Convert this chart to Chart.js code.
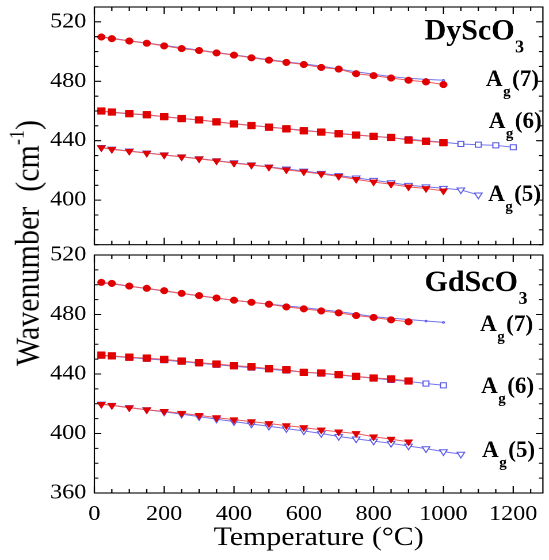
<!DOCTYPE html>
<html>
<head>
<meta charset="utf-8">
<script src="https://cdn.jsdelivr.net/npm/chart.js@4.4.1/dist/chart.umd.min.js"></script>
<style>
  body { margin: 0; background: #fff; }
  /* the original figure is a little wider than tall, so the whole drawing is stretched */
  #stage { position: absolute; left: 0; top: 0; width: 477px; height: 560px; transform: scaleX(1.15094); transform-origin: 0 0; }
  #topChart { position: absolute; left: 0; top: 0; }
  #bottomChart { position: absolute; left: 0; top: 235px; }
  #ylabel { position: absolute; left: -126px; top: 228px; width: 300px; height: 30px; line-height: 30px;
            text-align: center; font-family: "Liberation Serif"; font-size: 30px; color: #000;
            transform: rotate(-90deg); white-space: nowrap; }
  #ylabel sup { font-size: 18px; line-height: 0; vertical-align: 13px; }
</style>
</head>
<body>
<div id="stage">
  <canvas id="topChart" width="477" height="250"></canvas>
  <canvas id="bottomChart" width="477" height="325"></canvas>
  <div id="ylabel">Wavenumber&nbsp;&nbsp;(cm<sup>-1</sup>)</div>
</div>
<script>
const STRETCH = 549 / 477;

// temperatures (°C)
const dyTemp = [20, 50, 100, 150, 200, 250, 300, 350, 400, 450, 500, 550, 600, 650, 700, 750, 800, 850, 900, 950, 1000];
const dyTempAg6Blue = [20, 50, 100, 150, 200, 250, 300, 350, 400, 450, 500, 550, 600, 650, 700, 750, 800, 850, 900, 950, 1000, 1050, 1100, 1150, 1200];
const dyTempAg5Blue = [20, 50, 100, 150, 200, 250, 300, 350, 400, 450, 500, 550, 600, 650, 700, 750, 800, 850, 900, 950, 1000, 1050, 1100];
const gdTemp = [20, 50, 100, 150, 200, 250, 300, 350, 400, 450, 500, 550, 600, 650, 700, 750, 800, 850, 900];
const gdTempBlue = [20, 50, 100, 150, 200, 250, 300, 350, 400, 450, 500, 550, 600, 650, 700, 750, 800, 850, 900, 950, 1000];
const gdTempAg5Blue = [20, 50, 100, 150, 200, 250, 300, 350, 400, 450, 500, 550, 600, 650, 700, 750, 800, 850, 900, 950, 1000, 1050];

// DyScO3 wavenumbers (cm-1)
const dyAg7Red = [509.8, 508.7, 507.1, 505.6, 503.8, 502.0, 500.7, 499.1, 497.6, 495.8, 494.2, 492.7, 491.3, 489.3, 488.2, 485.1, 483.8, 482.2, 480.7, 479.6, 477.8];
const dyAg7Blue = [510.0, 509.0, 507.3, 505.8, 504.2, 502.6, 501.0, 499.4, 497.8, 496.2, 494.6, 493.1, 491.7, 490.2, 488.3, 486.4, 484.7, 483.1, 482.0, 481.3, 480.7];
const dyAg6Red = [460.0, 459.3, 458.2, 457.5, 456.2, 454.9, 454.0, 452.7, 451.3, 450.2, 449.1, 448.0, 446.7, 445.8, 444.7, 443.8, 442.9, 442.2, 440.4, 439.6, 438.7];
const dyAg6Blue = [459.8, 459.1, 458.1, 457.3, 456.2, 455.0, 453.9, 452.7, 451.5, 450.3, 449.2, 448.1, 447.0, 445.9, 444.9, 443.9, 442.9, 442.0, 441.0, 440.0, 439.0, 437.8, 437.3, 436.9, 435.6];
const dyAg5Red = [435.3, 434.2, 432.9, 431.6, 430.4, 429.1, 427.8, 426.4, 424.9, 423.6, 422.2, 420.4, 419.1, 417.6, 416.0, 414.0, 412.2, 410.7, 408.9, 407.8, 406.2];
const dyAg5Blue = [435.5, 434.4, 433.1, 431.8, 430.5, 429.2, 427.9, 426.6, 425.2, 423.8, 422.4, 421.0, 419.6, 418.1, 416.6, 415.0, 413.4, 411.8, 410.0, 409.0, 408.0, 406.9, 403.5];

// GdScO3 wavenumbers (cm-1)
const gdAg7Red = [501.6, 500.9, 499.1, 497.6, 496.0, 494.2, 492.7, 491.1, 489.6, 488.2, 486.9, 485.1, 483.8, 482.4, 481.1, 479.3, 478.0, 476.4, 475.1];
const gdAg7Blue = [501.3, 500.6, 499.0, 497.4, 495.8, 494.1, 492.5, 491.0, 489.5, 488.2, 487.0, 485.8, 484.6, 483.3, 481.9, 480.3, 478.6, 477.5, 476.6, 475.6, 474.7];
const gdAg6Red = [452.7, 452.2, 451.3, 450.7, 449.8, 448.7, 447.6, 446.7, 445.6, 444.9, 443.6, 442.9, 441.1, 440.7, 439.6, 438.4, 437.3, 436.7, 435.3];
const gdAg6Blue = [452.4, 451.9, 451.0, 450.2, 449.3, 448.3, 447.2, 446.2, 445.2, 444.2, 443.2, 442.3, 441.3, 440.3, 439.3, 438.2, 437.1, 436.0, 435.0, 433.6, 432.4];
const gdAg5Red = [419.6, 418.9, 417.3, 416.0, 414.9, 413.6, 412.2, 410.7, 409.3, 408.0, 406.7, 405.3, 404.0, 402.4, 401.1, 400.0, 397.8, 396.2, 394.4];
const gdAg5Blue = [419.8, 419.0, 417.5, 416.0, 414.5, 413.0, 411.3, 409.7, 408.0, 406.4, 404.9, 403.3, 401.8, 400.0, 398.0, 396.4, 394.9, 393.4, 391.6, 389.8, 387.8, 386.1];

// tick labels
const xTicks = [0, 200, 400, 600, 800, 1000, 1200];
const yTicksTop = [400, 440, 480, 520];
const yTicksBottom = [360, 400, 440, 480, 520];

const RED = '#e00000';
const RED_LINE = '#f05a5a';
const BLUE = '#5a5ae6';
const BLUE_LINE = '#7272ee';
const FONT = '"Liberation Serif", "Times New Roman", serif';

Chart.defaults.font.family = FONT;
Chart.defaults.color = '#000';

function toPoints(temps, values) {
    return temps.map((t, i) => ({ x: t, y: values[i] }));
}

function redSet(temps, values, style, radius) {
    return {
        data: toPoints(temps, values),
        borderColor: RED_LINE,
        borderWidth: 1,
        pointStyle: style === 'down' ? 'triangle' : style,
        rotation: style === 'down' ? 180 : 0,
        pointRadius: radius,
        pointBackgroundColor: RED,
        pointBorderColor: RED,
        pointBorderWidth: 0.5,
        order: 0
    };
}

function blueSet(temps, values, style, radius) {
    return {
        data: toPoints(temps, values),
        borderColor: BLUE_LINE,
        borderWidth: 1,
        pointStyle: style === 'down' ? 'triangle' : style,
        rotation: style === 'down' ? 180 : 0,
        pointRadius: radius,
        pointBackgroundColor: '#ffffff',
        pointBorderColor: BLUE,
        pointBorderWidth: 1,
        order: 1
    };
}

// frame with inward ticks on all four sides, plus the text notes
const panelDecor = {
    id: 'panelDecor',
    afterDatasetsDraw(chart, args, opts) {
        const { ctx, chartArea: a, scales: { x, y } } = chart;
        ctx.save();
        ctx.strokeStyle = '#000';
        ctx.lineWidth = 1.1;
        ctx.strokeRect(a.left, a.top, a.right - a.left, a.bottom - a.top);
        ctx.beginPath();
        for (let v = 0; v <= x.max; v += 50) {
            const len = v % 200 === 0 ? 7 : 4;
            const px = x.getPixelForValue(v);
            ctx.moveTo(px, a.top); ctx.lineTo(px, a.top + len);
            ctx.moveTo(px, a.bottom); ctx.lineTo(px, a.bottom - len);
        }
        for (let v = y.min; v <= y.max; v += 10) {
            const len = v % 40 === 0 ? 6 : 3.5;
            const py = y.getPixelForValue(v);
            ctx.moveTo(a.left, py); ctx.lineTo(a.left + len, py);
            ctx.moveTo(a.right, py); ctx.lineTo(a.right - len, py);
        }
        ctx.stroke();

        // notes are drawn without the horizontal stretch
        ctx.scale(1 / STRETCH, 1);
        ctx.fillStyle = '#000';
        ctx.textAlign = 'left';
        ctx.textBaseline = 'alphabetic';
        opts.notes.forEach(n => {
            let px = x.getPixelForValue(n.x) * STRETCH;
            const py = y.getPixelForValue(n.y);
            ctx.font = 'bold ' + n.size + 'px ' + FONT;
            ctx.fillText(n.main, px, py);
            px += ctx.measureText(n.main).width;
            ctx.font = 'bold ' + n.subSize + 'px ' + FONT;
            ctx.fillText(n.sub, px + 0.5, py + n.drop);
            px += ctx.measureText(n.sub).width + 2;
            if (n.rest) {
                ctx.font = 'bold ' + n.size + 'px ' + FONT;
                ctx.fillText(n.rest, px, py);
            }
        });
        ctx.restore();
    }
};

function makePanel(id, yMin, yMax, yTicks, datasets, notes, showX) {
    return new Chart(document.getElementById(id), {
        type: 'line',
        data: { datasets: datasets },
        options: {
            responsive: false,
            devicePixelRatio: 2,
            animation: false,
            layout: { padding: showX ? { top: 20, right: 1, bottom: 0, left: 0 } : { top: 7, right: 1, bottom: 3, left: 0 } },
            plugins: {
                legend: { display: false },
                tooltip: { enabled: false },
                panelDecor: { notes: notes }
            },
            scales: {
                x: {
                    type: 'linear',
                    display: showX,
                    min: 0,
                    max: 1285,
                    afterBuildTicks: s => { s.ticks = xTicks.map(v => ({ value: v })); },
                    afterFit: s => { if (showX) s.height = 67; },
                    grid: { display: false, drawTicks: false },
                    border: { display: false },
                    ticks: { color: '#000', font: { family: FONT, size: 21 }, padding: 9, maxRotation: 0, callback: v => String(v) },
                    title: { display: true, text: 'Temperature (°C)', color: '#000', font: { family: FONT, size: 26 }, padding: { top: 0, bottom: 6 } }
                },
                y: {
                    type: 'linear',
                    min: yMin,
                    max: yMax,
                    afterBuildTicks: s => { s.ticks = yTicks.map(v => ({ value: v })); },
                    afterFit: s => { s.width = 82; s.paddingTop = 0; s.paddingBottom = 0; },
                    grid: { display: false, drawTicks: false },
                    border: { display: false },
                    ticks: { color: '#000', font: { family: FONT, size: 21 }, padding: 7, callback: v => String(v) }
                }
            }
        },
        plugins: [panelDecor]
    });
}

makePanel('topChart', 370, 530, yTicksTop, [
    redSet(dyTemp, dyAg7Red, 'circle', 3.3),
    blueSet(dyTemp, dyAg7Blue, 'circle', 0.8),
    redSet(dyTemp, dyAg6Red, 'rect', 4.8),
    blueSet(dyTempAg6Blue, dyAg6Blue, 'rect', 3.6),
    redSet(dyTemp, dyAg5Red, 'down', 4.2),
    blueSet(dyTempAg5Blue, dyAg5Blue, 'down', 3.8)
], [
    { x: 946, y: 508, main: 'DyScO', sub: '3', rest: '', size: 30, subSize: 18, drop: 13 },
    { x: 1122, y: 476.7, main: 'A', sub: 'g', rest: '(7)', size: 23, subSize: 15, drop: 10 },
    { x: 1130, y: 448.7, main: 'A', sub: 'g', rest: '(6)', size: 23, subSize: 15, drop: 10 },
    { x: 1128, y: 399.3, main: 'A', sub: 'g', rest: '(5)', size: 23, subSize: 15, drop: 10 }
], false);

makePanel('bottomChart', 360, 520, yTicksBottom, [
    redSet(gdTemp, gdAg7Red, 'circle', 3.3),
    blueSet(gdTempBlue, gdAg7Blue, 'circle', 0.8),
    redSet(gdTemp, gdAg6Red, 'rect', 4.8),
    blueSet(gdTempBlue, gdAg6Blue, 'rect', 3.6),
    redSet(gdTemp, gdAg5Red, 'down', 4.2),
    blueSet(gdTempAg5Blue, gdAg5Blue, 'down', 3.8)
], [
    { x: 946, y: 495.8, main: 'GdScO', sub: '3', rest: '', size: 30, subSize: 18, drop: 13 },
    { x: 1105, y: 468.9, main: 'A', sub: 'g', rest: '(7)', size: 23, subSize: 15, drop: 10 },
    { x: 1108, y: 427.2, main: 'A', sub: 'g', rest: '(6)', size: 23, subSize: 15, drop: 10 },
    { x: 1111, y: 384.2, main: 'A', sub: 'g', rest: '(5)', size: 23, subSize: 15, drop: 10 }
], true);
</script>
</body>
</html>
